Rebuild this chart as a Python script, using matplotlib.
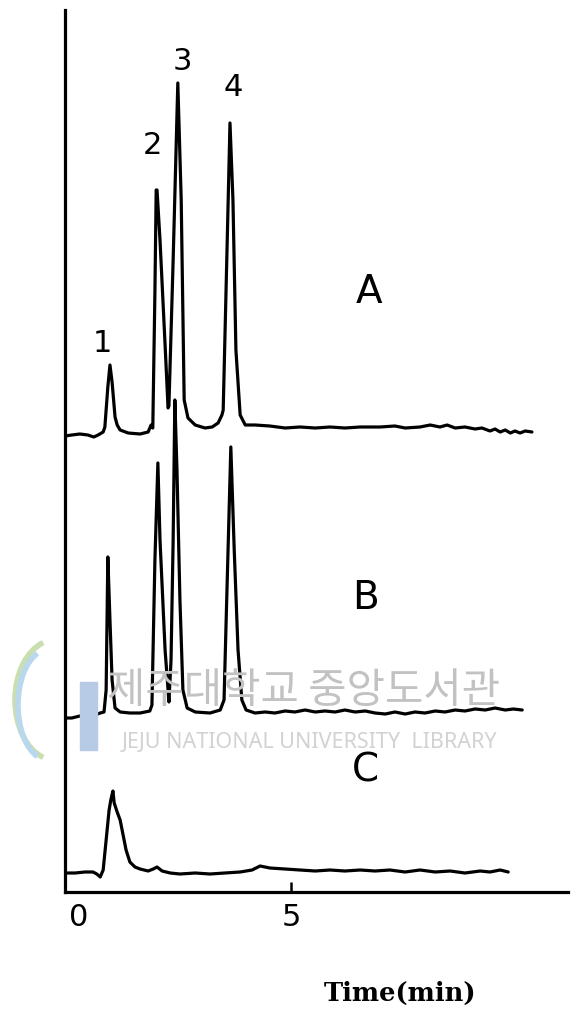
import matplotlib
matplotlib.use("Agg")
import matplotlib.pyplot as plt
from matplotlib.patches import Rectangle, Arc

# ---- data (time in min, detector response in arbitrary units, traces stacked) ----
time_A = [-0.33, -0.17, 0.02, 0.21, 0.35, 0.45, 0.57, 0.61, 0.68, 0.73, 0.78, 0.85, 0.90, 0.97,
          1.16, 1.44, 1.63, 1.70, 1.74, 1.79, 1.82, 1.84, 1.91, 2.03, 2.10, 2.12, 2.22, 2.33,
          2.41, 2.48, 2.57, 2.74, 2.97, 3.14, 3.28, 3.37, 3.40, 3.49, 3.56, 3.63, 3.70, 3.80,
          3.92, 4.15, 4.50, 4.86, 5.21, 5.57, 5.92, 6.27, 6.63, 7.10, 7.45, 7.69, 8.04, 8.28,
          8.51, 8.68, 8.87, 9.10, 9.34, 9.50, 9.69, 9.81, 9.93, 10.05, 10.17, 10.28, 10.40,
          10.52, 10.68]
resp_A = [45.6, 45.7, 45.8, 45.7, 45.5, 45.7, 46.0, 46.5, 50.5, 52.7, 51.0, 47.5, 46.7, 46.2,
          45.9, 45.8, 46.0, 46.7, 46.4, 60.0, 70.2, 70.2, 65.2, 54.7, 48.4, 48.6, 63.2, 80.9,
          69.2, 49.2, 47.4, 46.7, 46.4, 46.5, 46.9, 47.7, 48.2, 64.2, 76.9, 69.2, 54.2, 47.7,
          46.7, 46.7, 46.6, 46.4, 46.5, 46.4, 46.5, 46.4, 46.5, 46.5, 46.6, 46.4, 46.5, 46.7,
          46.5, 46.7, 46.4, 46.5, 46.3, 46.4, 46.1, 46.3, 46.0, 46.2, 45.9, 46.1, 45.9,
          46.1, 46.0]

time_B = [-0.33, -0.17, 0.02, 0.21, 0.38, 0.50, 0.59, 0.64, 0.68, 0.73, 0.78, 0.85, 0.97, 1.20,
          1.44, 1.67, 1.72, 1.79, 1.86, 1.91, 2.03, 2.10, 2.12, 2.17, 2.22, 2.26, 2.31, 2.38,
          2.45, 2.55, 2.74, 3.09, 3.33, 3.42, 3.47, 3.58, 3.66, 3.75, 3.84, 3.94, 4.15, 4.39,
          4.62, 4.86, 5.09, 5.33, 5.57, 5.80, 6.04, 6.27, 6.51, 6.75, 6.98, 7.22, 7.45, 7.69,
          7.92, 8.16, 8.40, 8.63, 8.87, 9.10, 9.34, 9.58, 9.81, 10.05, 10.24, 10.45]
resp_B = [17.4, 17.4, 17.6, 17.7, 17.7, 17.9, 18.0, 20.2, 33.5, 27.2, 21.2, 18.4, 18.0, 17.9,
          17.9, 18.1, 18.7, 33.2, 42.9, 35.2, 24.2, 20.2, 19.0, 23.2, 35.2, 49.2, 42.2, 29.2,
          20.2, 18.4, 18.0, 17.9, 18.2, 19.2, 27.2, 44.5, 34.2, 24.2, 19.2, 18.2, 17.9, 18.0,
          17.9, 18.1, 18.0, 18.2, 18.0, 18.1, 18.0, 18.2, 18.0, 18.1, 17.9, 17.8, 18.0, 17.8,
          18.0, 17.9, 18.1, 18.0, 18.2, 18.1, 18.3, 18.2, 18.4, 18.2, 18.3, 18.2]

time_C = [-0.33, -0.09, 0.14, 0.33, 0.42, 0.50, 0.57, 0.64, 0.71, 0.75, 0.80, 0.83, 0.90, 0.97,
          1.04, 1.11, 1.20, 1.32, 1.44, 1.63, 1.75, 1.84, 1.96, 2.15, 2.38, 2.74, 3.09, 3.44,
          3.80, 4.08, 4.27, 4.50, 4.86, 5.21, 5.57, 5.92, 6.27, 6.63, 6.98, 7.33, 7.69, 8.04,
          8.40, 8.75, 9.10, 9.46, 9.69, 9.93, 10.12]
resp_C = [1.9, 1.9, 2.0, 2.0, 1.8, 1.5, 2.2, 5.2, 8.2, 9.2, 10.1, 8.9, 8.0, 7.2,
          5.7, 4.2, 3.0, 2.5, 2.3, 2.1, 2.3, 2.5, 2.1, 1.9, 1.8, 1.9, 1.8, 1.9,
          2.0, 2.2, 2.6, 2.4, 2.3, 2.2, 2.1, 2.2, 2.1, 2.2, 2.1, 2.2, 2.0, 2.2,
          2.0, 2.1, 1.9, 2.1, 2.0, 2.2, 2.0]

x_ticks = [0, 5]
x_tick_labels = ["0", "5"]
peak_labels = ["1", "2", "3", "4"]
trace_labels = ["A", "B", "C"]
x_label = "Time(min)"

# ---- figure ----
W, H = 571, 1016
fig = plt.figure(figsize=(W / 100, H / 100), dpi=100)
ax = fig.add_axes([65 / W, 1 - 892 / H, (568 - 65) / W, (892 - 10) / H])
ax.set_xlim(-0.33, 11.53)
ax.set_ylim(0, 88.2)

# watermark (background)
fig.text(304 / W, 1 - 692 / H, "제주대학교 중앙도서관", fontsize=30,
         family=["Noto Sans CJK KR", "DejaVu Sans"], color="#c2c2c2",
         ha="center", va="center", zorder=0)
fig.text(309 / W, 1 - 742 / H, "JEJU NATIONAL UNIVERSITY  LIBRARY", fontsize=15.5,
         family=["Noto Sans", "DejaVu Sans"], color="#d2d2d2",
         ha="center", va="center", zorder=0)
fig.patches.append(Rectangle((80 / W, 1 - 750 / H), 17 / W, 68 / H,
                             transform=fig.transFigure, color="#b7cbe6", zorder=0))
fig.patches.append(Arc((55 / W, 1 - 700 / H), 80 / W, 120 / H, theta1=110, theta2=250,
                       transform=fig.transFigure, color="#c9dfb0", lw=4, zorder=0))
fig.patches.append(Arc((48 / W, 1 - 705 / H), 60 / W, 110 / H, theta1=110, theta2=250,
                       transform=fig.transFigure, color="#b9d8ee", lw=4, zorder=0))

ax.patch.set_alpha(0)
lw = 2.3
for t, r in [(time_A, resp_A), (time_B, resp_B), (time_C, resp_C)]:
    ax.plot(t, r, color="black", lw=lw, solid_joinstyle="round", solid_capstyle="round")

# spines
for s in ["top", "right"]:
    ax.spines[s].set_visible(False)
for s in ["left", "bottom"]:
    ax.spines[s].set_linewidth(2.3)
ax.set_yticks([])
ax.set_xticks(x_ticks)
ax.set_xticklabels(x_tick_labels, fontsize=22, family="DejaVu Sans")
ax.tick_params(axis="x", direction="in", length=7, width=1.8, pad=8)
ax.xaxis.get_major_ticks()[0].tick1line.set_visible(False)

# peak labels
txt = dict(fontsize=22, family="DejaVu Sans", ha="center", va="center")
ax.text(0.54, 54.9, peak_labels[0], **txt)
ax.text(1.72, 74.7, peak_labels[1], **txt)
ax.text(2.43, 83.0, peak_labels[2], **txt)
ax.text(3.63, 80.5, peak_labels[3], **txt)

big = dict(fontsize=28, family="DejaVu Sans", ha="center", va="center")
ax.text(6.84, 60.0, trace_labels[0], **big)
ax.text(6.75, 29.4, trace_labels[1], **big)
ax.text(6.75, 12.2, trace_labels[2], **big)

fig.text(400 / W, 1 - 993 / H, x_label, fontsize=18.5, family="DejaVu Serif",
         fontweight="bold", ha="center", va="center")

fig.savefig("out.png", dpi=100)
